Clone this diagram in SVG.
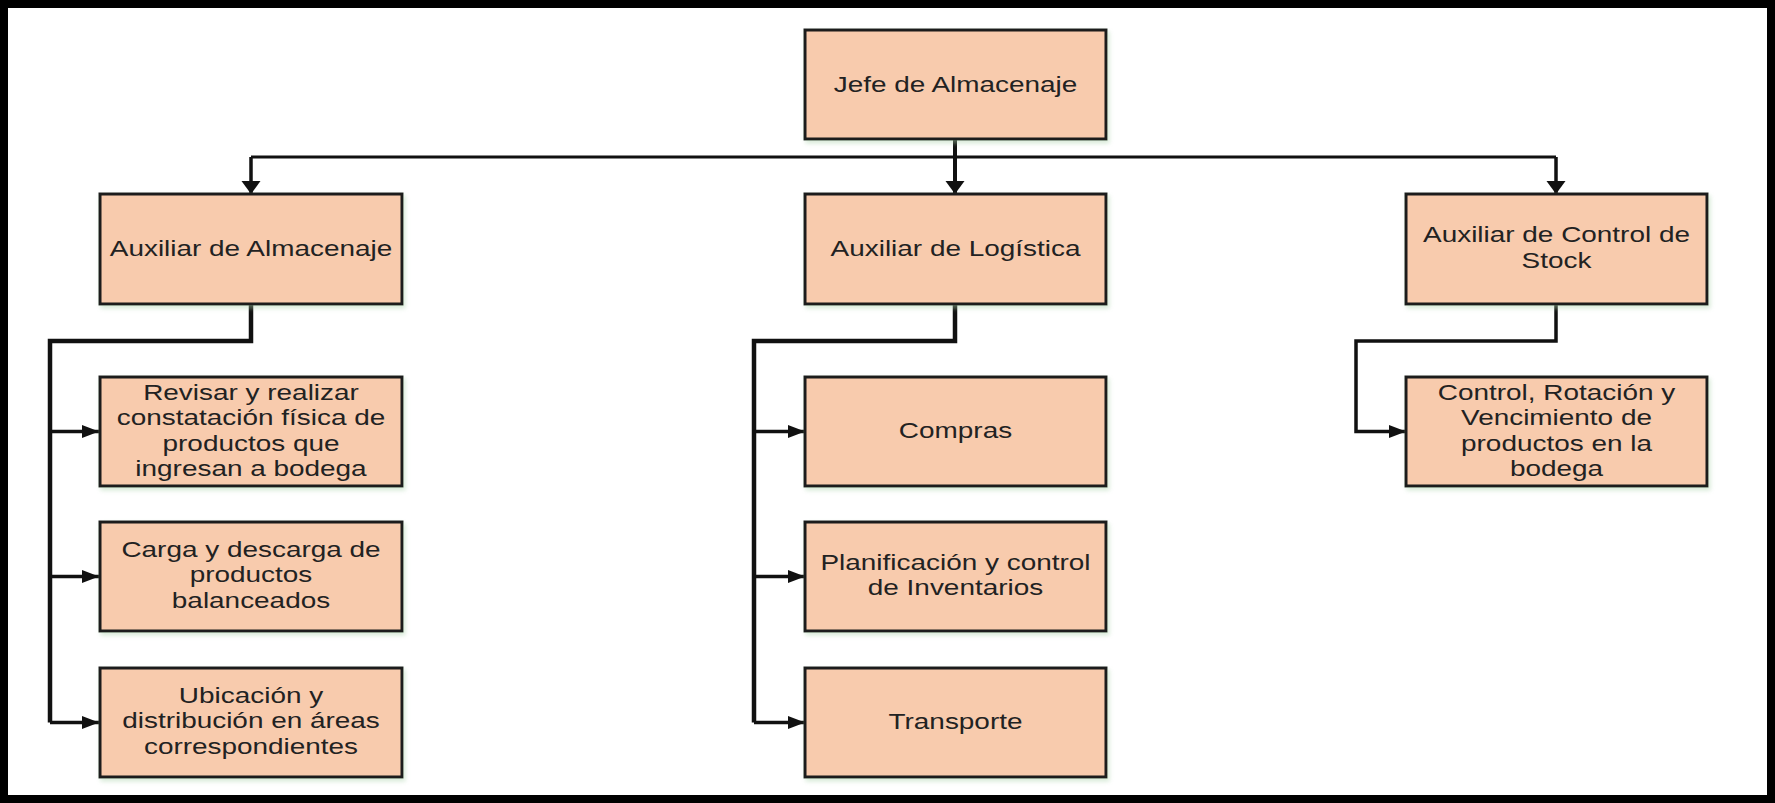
<svg xmlns="http://www.w3.org/2000/svg" width="1775" height="803" viewBox="0 0 1775 803">
<defs>
<style>
.box{fill:#F8CBAD;stroke:#1a1a1a;stroke-width:3;filter:url(#sh)}
.lbl{font-family:"Liberation Sans",Arial,sans-serif;font-size:22px;fill:#222;text-anchor:middle}
.con{fill:none;stroke:#111;stroke-width:3.5;stroke-linejoin:miter}
.trunk{stroke-width:4.5}
</style>
<filter id="sh" x="-10%" y="-10%" width="120%" height="130%">
<feDropShadow dx="2" dy="3" stdDeviation="2" flood-color="#a8d0a8" flood-opacity="0.45"/>
</filter>
<marker id="av" markerUnits="userSpaceOnUse" markerWidth="14" markerHeight="20" refX="13" refY="10" orient="auto">
<path d="M0,0.5 L13,10 L0,19.5 z" fill="#111"/>
</marker>
<marker id="ah" markerUnits="userSpaceOnUse" markerWidth="18" markerHeight="14" refX="17" refY="7" orient="auto">
<path d="M0,0.5 L17,7 L0,13.5 z" fill="#111"/>
</marker>
</defs>
<rect x="0" y="0" width="1775" height="803" fill="#fff"/>
<rect x="4" y="4" width="1767" height="795" fill="none" stroke="#000" stroke-width="8"/>

<g id="connectors">
<path class="con" d="M955,139 V194" marker-end="url(#av)" style="stroke-width:4"/>
<path class="con" d="M251,157 H1556" style="stroke-width:3"/>
<path class="con" d="M251,157 V194" marker-end="url(#av)"/>
<path class="con" d="M1556,157 V194" marker-end="url(#av)"/>
<path class="con trunk" d="M251,304 V341 H50 V722.5"/>
<path class="con" d="M50,431.5 H99" marker-end="url(#ah)"/>
<path class="con" d="M50,576.5 H99" marker-end="url(#ah)"/>
<path class="con" d="M50,722.5 H99" marker-end="url(#ah)"/>
<path class="con trunk" d="M955,304 V341 H754 V722.5"/>
<path class="con" d="M754,431.5 H805" marker-end="url(#ah)"/>
<path class="con" d="M754,576.5 H805" marker-end="url(#ah)"/>
<path class="con" d="M754,722.5 H805" marker-end="url(#ah)"/>
<path class="con" d="M1556,304 V341 H1356 V431.5 H1406" marker-end="url(#ah)"/>
</g>

<g id="jefe">
<rect class="box" x="805" y="30" width="301" height="109"/>
<text class="lbl" transform="translate(955.5,92) scale(1.27,1)">Jefe de Almacenaje</text>
</g>
<g id="aux-almacenaje">
<rect class="box" x="100" y="194" width="302" height="110"/>
<text class="lbl" transform="translate(251,256) scale(1.27,1)">Auxiliar de Almacenaje</text>
</g>
<g id="aux-logistica">
<rect class="box" x="805" y="194" width="301" height="110"/>
<text class="lbl" transform="translate(955.5,256) scale(1.27,1)">Auxiliar de Logística</text>
</g>
<g id="aux-stock">
<rect class="box" x="1406" y="194" width="301" height="110"/>
<text class="lbl" transform="translate(1556.5,242) scale(1.27,1)"><tspan x="0" y="0">Auxiliar de Control de</tspan><tspan x="0" y="26.5">Stock</tspan></text>
</g>

<g id="revisar">
<rect class="box" x="100" y="377" width="302" height="109"/>
<text class="lbl" transform="translate(251,400) scale(1.27,1)"><tspan x="0" y="0">Revisar y realizar</tspan><tspan x="0" y="25.3">constatación física de</tspan><tspan x="0" y="50.6">productos que</tspan><tspan x="0" y="75.9">ingresan a bodega</tspan></text>
</g>
<g id="carga">
<rect class="box" x="100" y="522" width="302" height="109"/>
<text class="lbl" transform="translate(251,557) scale(1.27,1)"><tspan x="0" y="0">Carga y descarga de</tspan><tspan x="0" y="25.3">productos</tspan><tspan x="0" y="50.6">balanceados</tspan></text>
</g>
<g id="ubicacion">
<rect class="box" x="100" y="668" width="302" height="109"/>
<text class="lbl" transform="translate(251,703) scale(1.27,1)"><tspan x="0" y="0">Ubicación y</tspan><tspan x="0" y="25.3">distribución en áreas</tspan><tspan x="0" y="50.6">correspondientes</tspan></text>
</g>

<g id="compras">
<rect class="box" x="805" y="377" width="301" height="109"/>
<text class="lbl" transform="translate(955.5,438) scale(1.27,1)">Compras</text>
</g>
<g id="planificacion">
<rect class="box" x="805" y="522" width="301" height="109"/>
<text class="lbl" transform="translate(955.5,570) scale(1.27,1)"><tspan x="0" y="0">Planificación y control</tspan><tspan x="0" y="25.3">de Inventarios</tspan></text>
</g>
<g id="transporte">
<rect class="box" x="805" y="668" width="301" height="109"/>
<text class="lbl" transform="translate(955.5,729) scale(1.27,1)">Transporte</text>
</g>

<g id="control-rotacion">
<rect class="box" x="1406" y="377" width="301" height="109"/>
<text class="lbl" transform="translate(1556.5,400) scale(1.27,1)"><tspan x="0" y="0">Control, Rotación y</tspan><tspan x="0" y="25.3">Vencimiento de</tspan><tspan x="0" y="50.6">productos en la</tspan><tspan x="0" y="75.9">bodega</tspan></text>
</g>
</svg>
